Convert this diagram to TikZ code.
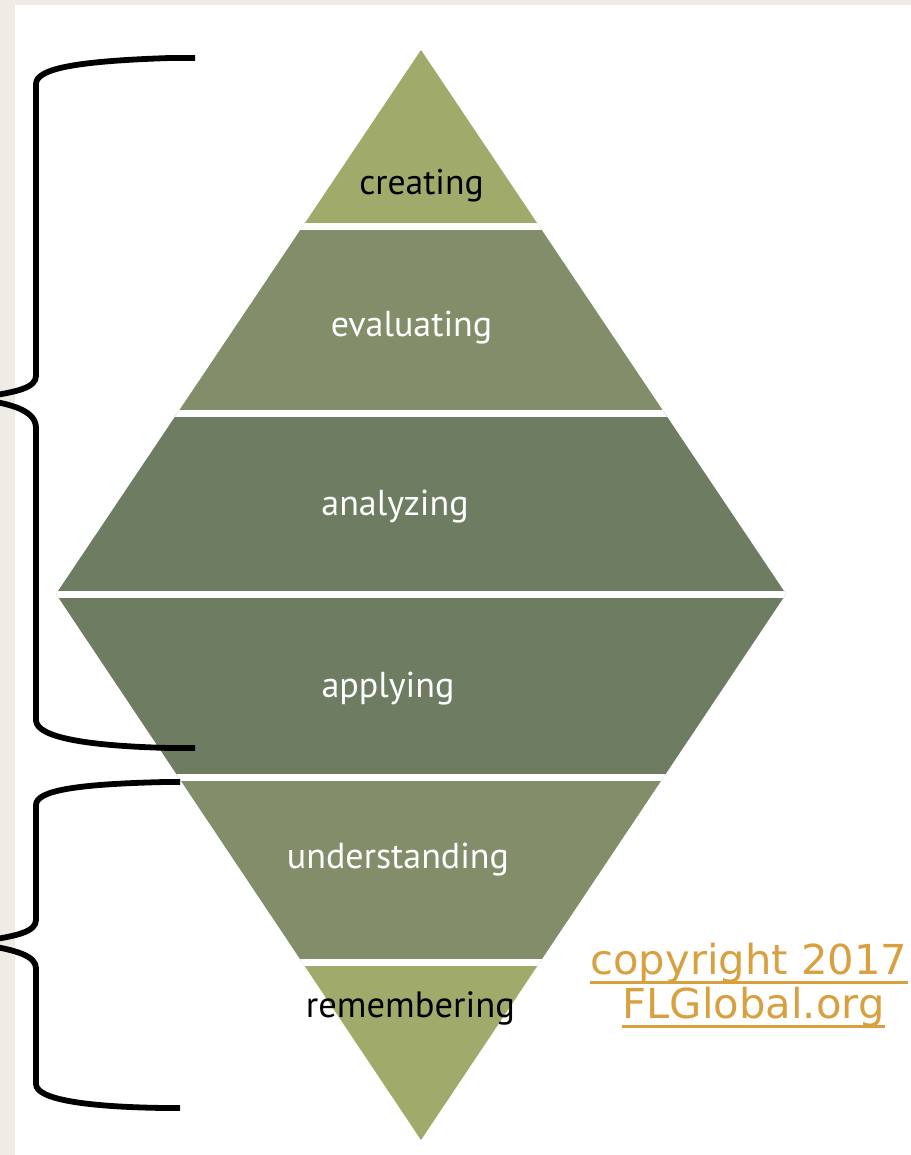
\documentclass[tikz,border=0pt]{standalone}
\usepackage{fontspec}
\setmainfont{PT Sans}
\newfontfamily\verd{DejaVu Sans}
\definecolor{bglight}{HTML}{EFECE6}
\definecolor{olivelight}{HTML}{A0AA6A}
\definecolor{olivemid}{HTML}{828D6A}
\definecolor{olivedark}{HTML}{6E7C62}
\definecolor{copyc}{HTML}{D9A040}
\begin{document}
\begin{tikzpicture}[x=0.02cm,y=-0.02cm,
  lbl/.style={anchor=base,inner sep=0pt,font=\fontsize{20.5pt}{22pt}\selectfont,text=white},
  bracepath/.style={line width=3.3pt,black,line cap=butt,line join=round},
  gapline/.style={white,line width=7*0.02cm},
  copytxt/.style={anchor=base,inner sep=0pt,text=copyc,font=\verd\fontsize{23.5pt}{26pt}\selectfont},
  uline/.style={copyc,line width=1.5pt}]
\useasboundingbox (0,0) rectangle (911,1155);
\clip (0,0) rectangle (911,1155);
\fill[bglight] (0,0) rectangle (911,1155);
\fill[white] (15,5) rectangle (911,1155);
% diamond bands
\coordinate (T) at (421,50);
\coordinate (L) at (56,594);
\coordinate (R) at (786,594);
\coordinate (B) at (421,1140);
\begin{scope}
\clip (T) -- (R) -- (B) -- (L) -- cycle;
\fill[olivelight] (0,0) rectangle (911,227);
\fill[olivemid] (0,227) rectangle (911,413);
\fill[olivedark] (0,413) rectangle (911,777);
\fill[olivemid] (0,777) rectangle (911,962);
\fill[olivelight] (0,962) rectangle (911,1155);
\foreach \g in {227,413,594,777,962} \draw[gapline] (0,\g) -- (911,\g);
\end{scope}
% labels
\node[lbl,text=black,font=\fontsize{20.3pt}{22pt}\selectfont] (creating) at (421.5,195) {creating};
\node[lbl] (evaluating) at (411.5,337) {evaluating};
\node[lbl] (analyzing) at (395,515) {analyzing};
\node[lbl] (applying) at (388,697) {applying};
\node[lbl] (understanding) at (398,868) {understanding};
\node[lbl,text=black,font=\fontsize{20.8pt}{22pt}\selectfont] (remembering) at (410.5,1017) {remembering};
% braces
\draw[bracepath] (195,58) -- (170,58) .. controls (80,61) and (36,68) .. (36,84) -- (36,376) .. controls (36,388) and (15,392) .. (-10,396);
\draw[bracepath] (-10,401) .. controls (15,405) and (36,412) .. (36,428) -- (36,720) .. controls (36,738) and (90,746) .. (170,748) -- (195,748);
\draw[bracepath] (180,782) -- (165,782) .. controls (80,784) and (36,790) .. (36,805) -- (36,920) .. controls (36,932) and (15,936) .. (-10,940);
\draw[bracepath] (-10,946) .. controls (15,950) and (36,956) .. (36,968) -- (36,1084) .. controls (36,1100) and (90,1107) .. (165,1108) -- (180,1108);
% copyright
\node[copytxt] (copy1) at (749,974) {\scalebox{1.01}[1]{copyright 2017}};
\node[copytxt] (copy2) at (753.5,1018) {\scalebox{1.01}[1]{FLGlobal.org}};
\draw[uline] ([yshift=-4.8pt]copy1.base west) -- ([yshift=-4.8pt]copy1.base east);
\draw[uline] ([yshift=-4.8pt]copy2.base west) -- ([yshift=-4.8pt]copy2.base east);
\end{tikzpicture}
\end{document}
